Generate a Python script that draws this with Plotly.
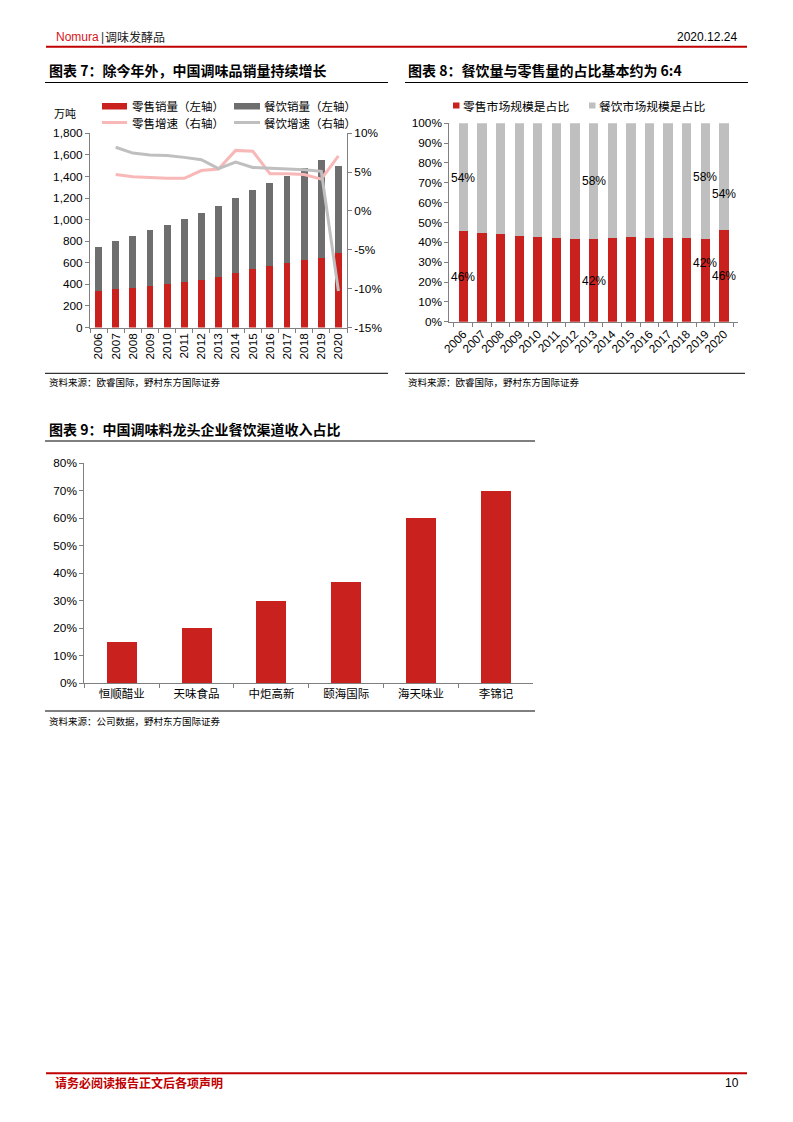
import plotly.graph_objects as go

# page is 793x1122; the html body has an 8px default margin, so the figure is
# sized to fit inside it and all layout pixel positions are offset accordingly
OX, OY = 8, 8
FW, FH = 777, 1106

# ---------------- data ----------------
years = ["2006", "2007", "2008", "2009", "2010", "2011", "2012", "2013",
         "2014", "2015", "2016", "2017", "2018", "2019", "2020"]
growth_years = years[1:]

# Chart 7 (万吨)
retail_volume = [340, 355, 370, 388, 406, 422, 443, 465, 502, 541, 566, 594, 622, 646, 689]
catering_volume = [410, 445, 480, 512, 544, 583, 622, 660, 698, 737, 774, 811, 853, 902, 811]
retail_growth = [4.7, 4.4, 4.3, 4.2, 4.2, 5.2, 5.4, 7.8, 7.7, 4.8, 4.8, 4.7, 4.1, 7.1]
catering_growth = [8.2, 7.45, 7.2, 7.15, 6.9, 6.6, 5.45, 6.3, 5.6, 5.5, 5.4, 5.3, 5.1, -10.3]

# Chart 8 (%)
retail_share = [45.9, 44.9, 44.2, 43.4, 42.9, 42.4, 41.9, 41.9, 42.1, 42.6, 42.3, 42.3, 42.3, 41.7, 46.0]
catering_share = [100 - v for v in retail_share]

# Chart 9 (%)
companies = ["恒顺醋业", "天味食品", "中炬高新", "颐海国际", "海天味业", "李锦记"]
catering_revenue_share = [15, 20, 30, 37, 60, 70]

right_ticks = [10, 5, 0, -5, -10, -15]
right_tick_text = ["10%", "5%", "0%", "-5%", "-10%", "-15%"]

# ---------------- style ----------------
RED = "#C9211E"
DGRAY = "#6E6E6E"
LGRAY = "#BFBFBF"
PINK = "#F8B8B8"
AXC = "#808080"
CJK = "Noto Sans CJK SC"
LAT = "Liberation Sans, Arial"
TICKF = dict(family=LAT, size=11.8, color="#000000")


def px(x):
    return (x - OX) / FW


def py(y):
    return 1 - (y - OY) / FH


fig = go.Figure()

# Chart 7
fig.add_trace(go.Bar(x=years, y=retail_volume, marker=dict(color=RED, line=dict(width=0)),
                     width=0.4, xaxis="x", yaxis="y", showlegend=False))
fig.add_trace(go.Bar(x=years, y=catering_volume, marker=dict(color=DGRAY, line=dict(width=0)),
                     width=0.4, xaxis="x", yaxis="y", showlegend=False))
fig.add_trace(go.Scatter(x=growth_years, y=retail_growth, mode="lines",
                         line=dict(color=PINK, width=3), xaxis="x", yaxis="y2", showlegend=False))
fig.add_trace(go.Scatter(x=growth_years, y=catering_growth, mode="lines",
                         line=dict(color=LGRAY, width=3), xaxis="x", yaxis="y2", showlegend=False))

# Chart 8
fig.add_trace(go.Bar(x=years, y=retail_share, marker=dict(color=RED, line=dict(width=0)),
                     width=0.5, xaxis="x2", yaxis="y3", showlegend=False))
fig.add_trace(go.Bar(x=years, y=catering_share, marker=dict(color=LGRAY, line=dict(width=0)),
                     width=0.5, xaxis="x2", yaxis="y3", showlegend=False))

# Chart 9
fig.add_trace(go.Bar(x=companies, y=catering_revenue_share, marker=dict(color=RED, line=dict(width=0)),
                     width=0.4, xaxis="x3", yaxis="y4", showlegend=False))

common_x = dict(type="category", showline=True, linecolor=AXC, linewidth=1,
                ticks="outside", tickson="boundaries", ticklen=4, tickcolor=AXC,
                showgrid=False, zeroline=False, tickfont=TICKF, fixedrange=True,
                automargin=False)
common_y = dict(showline=True, linecolor=AXC, linewidth=1, ticks="outside", ticklen=4,
                tickcolor=AXC, showgrid=False, zeroline=False, tickfont=TICKF, fixedrange=True,
                automargin=False)

fig.update_layout(
    width=FW, height=FH,
    margin=dict(l=0, r=0, t=0, b=0, autoexpand=False),
    paper_bgcolor="white", plot_bgcolor="rgba(0,0,0,0)",
    barmode="stack",
    showlegend=False,
    xaxis=dict(common_x, domain=[px(90), px(347)], anchor="y", tickangle=-90),
    yaxis=dict(common_y, domain=[py(327.5), py(133.3)], anchor="x", range=[0, 1800],
               dtick=200, tickformat=",d"),
    yaxis2=dict(common_y, overlaying="y", side="right", anchor="x", range=[-15, 10],
                tickvals=right_ticks, ticktext=right_tick_text),
    xaxis2=dict(common_x, domain=[px(449.3), px(738)], anchor="y3", tickangle=-45),
    yaxis3=dict(common_y, domain=[py(321.7), py(123.3)], anchor="x2", range=[0, 100],
                dtick=10, ticksuffix="%"),
    xaxis3=dict(common_x, domain=[px(84.3), px(533.3)], anchor="y4",
                tickfont=dict(family=CJK, size=11.5, color="#000000"), tickangle=0),
    yaxis4=dict(common_y, domain=[py(683.3), py(463.3)], anchor="x3", range=[0, 80],
                dtick=10, ticksuffix="%"),
)

shapes = []
ann = []


def hline(x0, x1, y, color, w):
    shapes.append(dict(type="line", xref="paper", yref="paper", x0=px(x0), x1=px(x1),
                       y0=py(y), y1=py(y), line=dict(color=color, width=w)))


def text(x, y, s, size, color="#000000", family=CJK, xanchor="left", bold=False):
    if bold:
        s = "<b>" + s + "</b>"
    ann.append(dict(xref="paper", yref="paper", x=px(x), y=py(y), text=s, showarrow=False,
                    xanchor=xanchor, yanchor="middle",
                    font=dict(family=family, size=size, color=color)))


# Header
hline(46, 747, 46.7, "#C00000", 2)
text(54, 36.7, "Nomura", 12, "#D7141A", LAT)
text(98.5, 36.7, "|", 12, "#333333", LAT)
text(103, 36.7, "调味发酵品", 12, "#222222")
text(739, 36.7, "2020.12.24", 12, "#000000", LAT, xanchor="right")

# Footer
hline(46, 747, 1073.3, "#C00000", 2)
text(53, 1082.5, "请务必阅读报告正文后各项声明", 12, "#C00000", bold=True)
text(741, 1082.5, "10", 12, "#000000", LAT, xanchor="right")

# Titles
text(47, 70, "图表 7：除今年外，中国调味品销量持续增长", 14, bold=True)
hline(45, 388, 82.5, "#000000", 1.2)
text(406, 70, "图表 8：餐饮量与零售量的占比基本约为 6:4", 14, bold=True)
hline(405, 748, 82.5, "#000000", 1.2)
text(47, 429, "图表 9：中国调味料龙头企业餐饮渠道收入占比", 14, bold=True)
hline(45, 535, 441, "#000000", 1.2)

# Sources
hline(45, 388, 373.3, "#000000", 1)
text(47, 382.3, "资料来源：欧睿国际，野村东方国际证券", 9.5)
hline(405, 745, 373.3, "#000000", 1)
text(406, 382.3, "资料来源：欧睿国际，野村东方国际证券", 9.5)
hline(45, 535, 711, "#000000", 1)
text(47, 720.7, "资料来源：公司数据，野村东方国际证券", 9.5)

# Chart 7 legend
shapes.append(dict(type="rect", xref="paper", yref="paper", x0=px(102), x1=px(127),
                   y0=py(109.5), y1=py(103), fillcolor=RED, line=dict(width=0)))
text(130, 106, "零售销量（左轴）", 11.5)
shapes.append(dict(type="rect", xref="paper", yref="paper", x0=px(234), x1=px(260),
                   y0=py(109.5), y1=py(103), fillcolor=DGRAY, line=dict(width=0)))
text(262, 106, "餐饮销量（左轴）", 11.5)
hline(102, 127, 122.5, PINK, 3)
text(130, 123, "零售增速（右轴）", 11.5)
hline(234, 260, 122.5, LGRAY, 3)
text(262, 123, "餐饮增速（右轴）", 11.5)
text(52, 112.5, "万吨", 11)

# Chart 8 legend
shapes.append(dict(type="rect", xref="paper", yref="paper", x0=px(453), x1=px(459.5),
                   y0=py(108.5), y1=py(102.5), fillcolor=RED, line=dict(width=0)))
text(460.5, 105.5, "零售市场规模是占比", 11.8)
shapes.append(dict(type="rect", xref="paper", yref="paper", x0=px(589), x1=px(595.5),
                   y0=py(108.5), y1=py(102.5), fillcolor=LGRAY, line=dict(width=0)))
text(597, 105.5, "餐饮市场规模是占比", 11.8)

# Chart 8 value labels
label_specs = [(0, 72.6, 22.4), (7, 71.0, 20.5), (13, 72.8, 29.7), (14, 64.2, 23.0)]
for idx, y_cat, y_ret in label_specs:
    ann.append(dict(xref="x2", yref="y3", x=idx, y=y_cat,
                    text=f"{round(catering_share[idx])}%", showarrow=False,
                    font=dict(family=LAT, size=12, color="#000000")))
    ann.append(dict(xref="x2", yref="y3", x=idx, y=y_ret,
                    text=f"{round(retail_share[idx])}%", showarrow=False,
                    font=dict(family=LAT, size=12, color="#000000")))

fig.update_layout(shapes=shapes, annotations=ann)

fig.write_html("out.html")
